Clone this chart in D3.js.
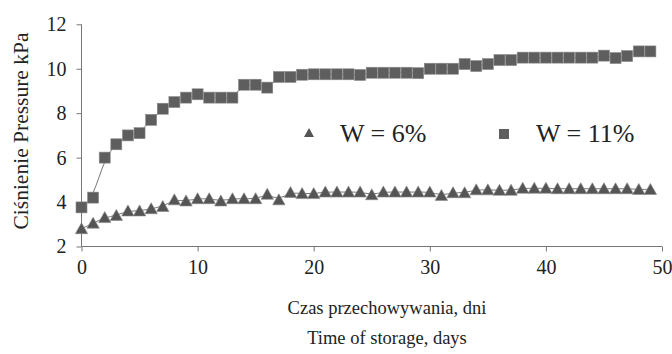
<!DOCTYPE html>
<html><head><meta charset="utf-8">
<script src="https://cdn.jsdelivr.net/npm/d3@7"></script>
<style>body{margin:0;background:#fff}svg{display:block}svg text{font-family:"Liberation Serif","Times New Roman",serif !important;}</style>
</head><body>
<svg id="c" width="672" height="354"></svg>
<script>
const days = d3.range(0, 50);
const w6 = [2.8,3.05,3.3,3.4,3.6,3.6,3.7,3.8,4.1,4.05,4.15,4.15,4.05,4.15,4.15,4.15,4.35,4.1,4.43,4.38,4.38,4.45,4.45,4.45,4.45,4.33,4.45,4.45,4.45,4.45,4.45,4.3,4.42,4.42,4.55,4.55,4.53,4.53,4.62,4.62,4.62,4.6,4.6,4.6,4.6,4.6,4.6,4.6,4.57,4.57];
const w11 = [3.76,4.2,6.0,6.6,7.0,7.1,7.7,8.2,8.5,8.7,8.85,8.7,8.7,8.7,9.28,9.28,9.15,9.63,9.63,9.73,9.75,9.75,9.75,9.75,9.72,9.82,9.82,9.82,9.82,9.8,10.0,10.0,10.0,10.21,10.12,10.21,10.39,10.39,10.5,10.5,10.5,10.5,10.5,10.5,10.5,10.59,10.48,10.57,10.78,10.78];
const xTicks = [0,10,20,30,40,50];
const yTicks = [2,4,6,8,10,12];
const legendLabels = ["W = 6%", "W = 11%"];
const xTitle = ["Czas przechowywania, dni", "Time of storage, days"];
const yTitle = "Ciśnienie Pressure kPa";

const svg = d3.select("#c");
const font = "Liberation Serif";
const x = d3.scaleLinear().domain([0,50]).range([81.5,662]);
const y = d3.scaleLinear().domain([2,12]).range([246.5,24.3]);
const axisCol = "#777";

// axes
const gx = svg.append("g").attr("transform","translate(0,"+y(2)+")")
  .call(d3.axisBottom(x).tickValues(xTicks).tickSize(5).tickPadding(8))
  .attr("font-family",font).attr("font-size",20);
gx.select(".domain").attr("stroke",axisCol).attr("d","M"+x(0)+",0H"+x(50));
gx.selectAll(".tick line").attr("stroke",axisCol);
gx.selectAll(".tick text").style("font-family",font).style("font-size","20px").attr("fill","#222");

const gy = svg.append("g").attr("transform","translate("+x(0)+",0)")
  .call(d3.axisLeft(y).tickValues(yTicks).tickSize(5).tickPadding(10))
  .attr("font-family",font).attr("font-size",20);
gy.select(".domain").attr("stroke",axisCol).attr("d","M0,"+y(12)+"V"+y(2));
gy.selectAll(".tick line").attr("stroke",axisCol);
gy.selectAll(".tick text").style("font-family",font).style("font-size","20px").attr("fill","#222");

// lines
const line = d3.line().x((d,i)=>x(days[i])).y(d=>y(d)).curve(d3.curveBasis);
svg.append("path").attr("d",line(w6)).attr("fill","none").attr("stroke","#666").attr("stroke-width",0.9);
svg.append("path").attr("d",line(w11)).attr("fill","none").attr("stroke","#666").attr("stroke-width",0.9);

const tri = "M0,-6L6.2,5L-6.2,5Z";
const mCol = "#555";
svg.append("g").selectAll("path").data(w6).join("path")
  .attr("d",tri).attr("transform",(d,i)=>"translate("+x(days[i])+","+y(d)+")")
  .attr("fill",mCol).attr("stroke","#888").attr("stroke-width",0.6);
const s = 11;
svg.append("g").selectAll("rect").data(w11).join("rect")
  .attr("x",(d,i)=>x(days[i])-s/2).attr("y",d=>y(d)-s/2).attr("width",s).attr("height",s)
  .attr("fill","#5e5e5e").attr("stroke","#8a8a8a").attr("stroke-width",0.6);

// legend
svg.append("path").attr("d","M0,-5L5,4L-5,4Z").attr("transform","translate(309,133)").attr("fill",mCol);
svg.append("rect").attr("x",499).attr("y",129).attr("width",10).attr("height",10).attr("fill","#5e5e5e");
svg.append("text").attr("x",340).attr("y",142).style("font-size","26px").attr("fill","#222").text(legendLabels[0]);
svg.append("text").attr("x",536).attr("y",142).style("font-size","26px").attr("fill","#222").text(legendLabels[1]);

// titles
svg.append("text").attr("x",387).attr("y",314).attr("text-anchor","middle").style("font-size","18.5px").attr("fill","#222").text(xTitle[0]);
svg.append("text").attr("x",387).attr("y",344).attr("text-anchor","middle").style("font-size","18.5px").attr("fill","#222").text(xTitle[1]);
svg.append("text").attr("transform","translate(28,131) rotate(-90)").attr("text-anchor","middle").style("font-size","21.5px").attr("fill","#222").text(yTitle);
</script>
</body></html>
